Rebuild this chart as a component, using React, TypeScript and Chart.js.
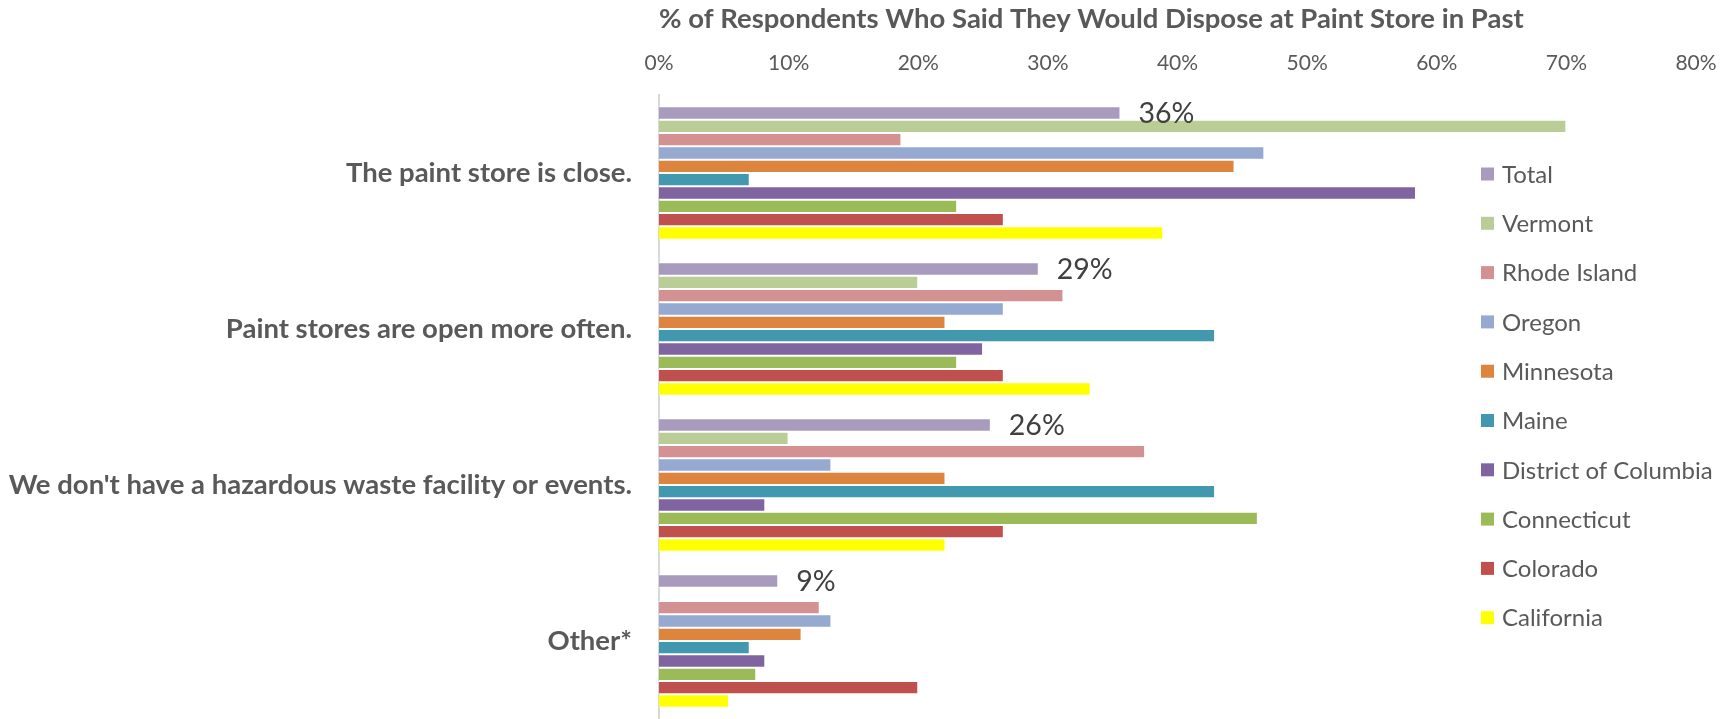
import React, { useEffect, useRef } from 'react';
import { Chart, registerables } from 'chart.js';

Chart.register(...registerables);

const categories = [
  'The paint store is close.',
  'Paint stores are open more often.',
  "We don't have a hazardous waste facility or events.",
  'Other*',
];

const seriesNames = [
  'Total',
  'Vermont',
  'Rhode Island',
  'Oregon',
  'Minnesota',
  'Maine',
  'District of Columbia',
  'Connecticut',
  'Colorado',
  'California',
];

const total = [35.6, 29.3, 25.6, 9.2];
const vermont = [70.0, 20.0, 10.0, null];
const rhodeIsland = [18.7, 31.2, 37.5, 12.4];
const oregon = [46.7, 26.6, 13.3, 13.3];
const minnesota = [44.4, 22.1, 22.1, 11.0];
const maine = [7.0, 42.9, 42.9, 7.0];
const districtOfColumbia = [58.4, 25.0, 8.2, 8.2];
const connecticut = [23.0, 23.0, 46.2, 7.5];
const colorado = [26.6, 26.6, 26.6, 20.0];
const california = [38.9, 33.3, 22.1, 5.4];

const seriesValues = [
  total,
  vermont,
  rhodeIsland,
  oregon,
  minnesota,
  maine,
  districtOfColumbia,
  connecticut,
  colorado,
  california,
];

const seriesColors = [
  '#A99BBE',
  '#BBCD97',
  '#D39291',
  '#95A9D1',
  '#DD843E',
  '#4198AF',
  '#8064A2',
  '#9BBB59',
  '#C0504D',
  '#FFFF00',
];

const xTickValues = [0, 10, 20, 30, 40, 50, 60, 70, 80];

const TEXT = '#595959';
const FONT = 'Lato, "Open Sans", sans-serif';

const sideLegend = {
  id: 'sideLegend',
  afterDraw(chart: any) {
    const { ctx, chartArea } = chart;
    const x0 = chartArea.right - 215;
    const y0 = chartArea.top + 79;
    const step = 49.3;
    ctx.save();
    ctx.font = `24px ${FONT}`;
    ctx.textBaseline = 'middle';
    ctx.textAlign = 'left';
    chart.data.datasets.forEach((ds: any, i: number) => {
      const y = y0 + i * step;
      ctx.fillStyle = ds.backgroundColor;
      ctx.fillRect(x0, y - 6.5, 13, 13);
      ctx.fillStyle = TEXT;
      ctx.fillText(ds.label, x0 + 21, y + 1);
    });
    ctx.restore();
  },
};

const totalLabels = {
  id: 'totalLabels',
  afterDatasetsDraw(chart: any) {
    const { ctx } = chart;
    const meta = chart.getDatasetMeta(0);
    const data = chart.data.datasets[0].data;
    ctx.save();
    ctx.font = `28.5px ${FONT}`;
    ctx.fillStyle = '#404040';
    ctx.textBaseline = 'middle';
    ctx.textAlign = 'left';
    meta.data.forEach((el: any, i: number) => {
      const v = data[i];
      if (v == null) return;
      ctx.fillText(`${Math.round(v)}%`, el.x + 18, el.y + 1);
    });
    ctx.restore();
  },
};

export default function App() {
  const canvasRef = useRef<HTMLCanvasElement | null>(null);

  useEffect(() => {
    if (!canvasRef.current) return;
    const chart = new Chart(canvasRef.current, {
      type: 'bar',
      data: {
        labels: categories,
        datasets: seriesNames.map((name, i) => ({
          label: name,
          data: seriesValues[i] as any,
          backgroundColor: seriesColors[i],
          borderColor: 'rgba(255,255,255,0.75)',
          borderWidth: 1,
          categoryPercentage: 0.855,
          barPercentage: 1.0,
        })),
      },
      options: {
        indexAxis: 'y',
        animation: false,
        responsive: false,
        maintainAspectRatio: false,
        layout: { padding: { left: 0, right: 27, top: 0, bottom: 0 } },
        plugins: {
          legend: { display: false },
          tooltip: { enabled: false },
          title: { display: false },
        },
        scales: {
          x: {
            position: 'top',
            min: 0,
            max: 80,
            afterFit: (scale: any) => {
              scale.height = 95;
              scale.paddingLeft = 0;
              scale.paddingRight = 0;
            },
            afterBuildTicks: (scale: any) => {
              scale.ticks = xTickValues.map((v) => ({ value: v }));
            },
            ticks: {
              padding: 19,
              color: TEXT,
              font: { family: FONT, size: 21 },
              callback: (v: any) => `${v}%`,
            },
            grid: { display: false, drawTicks: false },
            border: { display: false },
            title: {
              display: true,
              text: '% of Respondents Who Said They Would Dispose at Paint Store in Past',
              align: 'start',
              color: TEXT,
              font: { family: FONT, size: 27.5, weight: 'bold' },
              padding: { top: 3, bottom: 0 },
            },
          },
          y: {
            afterFit: (scale: any) => {
              scale.width = 659;
              scale.paddingTop = 0;
              scale.paddingBottom = 0;
            },
            ticks: {
              padding: 27,
              color: TEXT,
              font: { family: FONT, size: 27.5, weight: 'bold' },
            },
            grid: { display: false, drawTicks: false },
            border: { display: true, color: '#D9D9D9', width: 2 },
          },
        },
      },
      plugins: [totalLabels, sideLegend],
    });
    return () => chart.destroy();
  }, []);

  return (
    <div
      style={{
        position: 'fixed',
        left: 0,
        top: 0,
        width: 1723,
        height: 719,
        background: '#ffffff',
      }}
    >
      <canvas ref={canvasRef} width={1723} height={719} style={{ display: 'block' }} />
    </div>
  );
}
